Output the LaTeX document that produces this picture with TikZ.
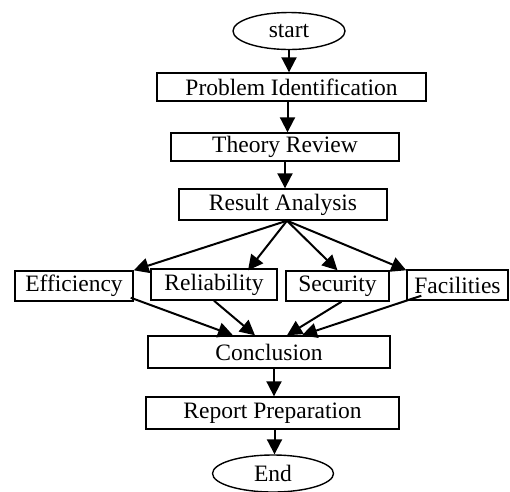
\documentclass[tikz,border=0pt]{standalone}
\usepackage{fontspec}
\setmainfont{Liberation Serif}
\usetikzlibrary{shapes.geometric,arrows.meta}
\begin{document}
\begin{tikzpicture}[x=1pt,y=-1pt,
  box/.style={draw,line width=1.4pt,rectangle,inner sep=0pt,font=\fontsize{23.5}{26}\selectfont},
  oval/.style={draw,line width=1.4pt,ellipse,inner sep=0pt,font=\fontsize{23.5}{26}\selectfont},
  arr/.style={line width=2pt,-{Triangle[length=15pt,width=15pt]}}]
\useasboundingbox (0,0) rectangle (510,491);
\node[oval,minimum width=112pt,minimum height=37pt] (start) at (289,31) {start};
\node[box,minimum width=269pt,minimum height=28pt] (PI) at (291.5,87) {Problem Identification};
\node[box,minimum width=228pt,minimum height=28pt] (TR) at (285,147) {Theory Review};
\node[box,minimum width=208pt,minimum height=31pt] (RA) at (283,204.5) {Result Analysis};
\node[box,minimum width=118pt,minimum height=30pt] (Eff) at (74,286) {Efficiency};
\node[box,minimum width=126pt,minimum height=31pt] (Rel) at (214,284.5) {Reliability};
\node[box,minimum width=103pt,minimum height=30pt] (Sec) at (337.5,286) {Security};
\node[box,minimum width=101pt,minimum height=30pt] (Fac) at (457.5,285) {Facilities};
\node[box,minimum width=242pt,minimum height=32pt] (Conc) at (269,352) {Conclusion};
\node[box,minimum width=253pt,minimum height=32pt] (RP) at (272.5,413) {Report Preparation};
\node[oval,minimum width=121pt,minimum height=37pt] (End) at (273,473.5) {End};
\coordinate (fan) at ([xshift=4pt]RA.south);
\draw[arr] (start.south) -- (start.south |- PI.north);
\draw[arr] ([xshift=-4pt]PI.south) -- ([xshift=-4pt]PI.south |- TR.north);
\draw[arr] (TR.south) -- (TR.south |- RA.north);
\draw[arr] (fan) -- (Eff.north east);
\draw[arr] (fan) -- ([xshift=34pt,yshift=-2pt]Rel.north);
\draw[arr] (fan) -- (Sec.north);
\draw[arr] (fan) -- ([yshift=-1pt]Fac.north west);
\draw[arr] ([xshift=-3pt,yshift=4pt]Eff.south east) -- ([xshift=-36pt]Conc.north);
\draw[arr] (Rel.south) -- ([xshift=-14pt]Conc.north);
\draw[arr] ([xshift=4pt]Sec.south) -- ([xshift=18pt]Conc.north);
\draw[arr] ([xshift=15pt,yshift=5pt]Fac.south west) -- ([xshift=33pt]Conc.north);
\draw[arr] ([xshift=5pt]Conc.south) -- ([xshift=5pt]Conc.south |- RP.north);
\draw[arr] ([xshift=2pt]RP.south) -- ([xshift=2pt]RP.south |- End.north);
\end{tikzpicture}
\end{document}
